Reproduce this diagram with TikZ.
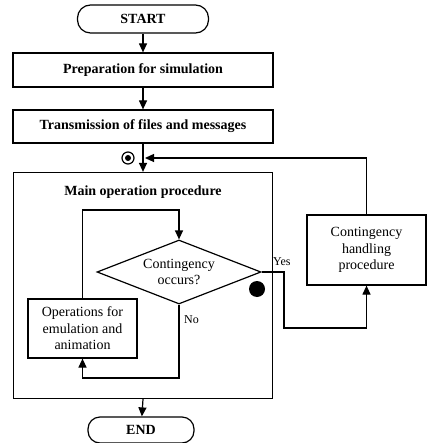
\documentclass[tikz,border=0pt]{standalone}
\usepackage{fontspec}
\setmainfont{Liberation Serif}
\usetikzlibrary{arrows.meta,shapes.geometric}

\tikzset{
  base/.style={draw, line width=1.2pt, inner sep=2pt, align=center},
  term/.style={base, rounded corners=13pt, font=\fontsize{14}{16}\selectfont\bfseries},
  procbox/.style={base, rectangle, font=\fontsize{14}{16}\selectfont\bfseries},
  plainbox/.style={base, rectangle, font=\fontsize{14}{16.5}\selectfont},
  framebox/.style={draw, line width=1.2pt, rectangle},
  decision/.style={base, diamond, aspect=2.5, inner sep=0pt, font=\fontsize{14}{16}\selectfont},
  flow/.style={line width=1.2pt, -{Triangle[length=9pt,width=8pt]}},
  tag/.style={font=\fontsize{12}{14}\selectfont, inner sep=0pt}
}

\begin{document}
\begin{tikzpicture}[x=1pt,y=-1pt]
\useasboundingbox (0,0) rectangle (427,443);

% main chain
\node[term, minimum width=131pt, minimum height=28pt] (start) at (143,19) {START};
\node[procbox, minimum width=260pt, minimum height=34pt] (prep) at (143,70) {Preparation for simulation};
\node[procbox, minimum width=260pt, minimum height=33pt] (trans) at (143,126.5) {Transmission of files and messages};
\node[framebox, minimum width=259pt, minimum height=226pt] (main) at (143,285.5) {};
\node[font=\fontsize{14}{16}\selectfont\bfseries] (title) at (143,192) {Main operation procedure};
\node[term, minimum width=106pt, minimum height=26pt, rounded corners=12pt] (end) at (141,430) {END};

% inner loop
\node[decision, minimum width=164pt, minimum height=64pt] (dia) at (179,272) {Contingency\\occurs?};
\node[plainbox, minimum width=109pt, minimum height=59pt] (ops) at (82.5,328.5) {Operations for\\emulation and\\animation};

% contingency branch
\node[plainbox, minimum width=119pt, minimum height=70pt] (cont) at (366.5,250) {Contingency\\handling\\procedure};

% bend points
\coordinate (looptop) at (179,210);
\coordinate (nobend) at (179,378);
\coordinate (yes1) at (284,272);
\coordinate (yes2) at (284,328);
\coordinate (merge) at (145,158);

% connectors
\draw[flow] (start) -- (prep);
\draw[flow] (prep) -- (trans);
\draw[flow] (trans) -- (main.north);
\draw[flow] (cont.north) |- (merge);
\draw[flow] (ops.north) |- (looptop) -- (dia.north);
\draw[flow] (dia.south) -- (nobend) -| (ops.south);
\draw[flow] (dia.east) -- (yes1) -- (yes2) -| (cont.south);
\draw[flow] (main.south) -- (end);

% labels
\node[tag, anchor=west] (yes) at (273,262) {Yes};
\node[tag, anchor=west] (no) at (184,320) {No};

% markers
\node[circle, draw, line width=1.2pt, minimum size=12pt, inner sep=0pt] (ring) at (128,158) {};
\fill (ring.center) circle (3pt);
\fill (257,289) circle (8pt);
\end{tikzpicture}
\end{document}
